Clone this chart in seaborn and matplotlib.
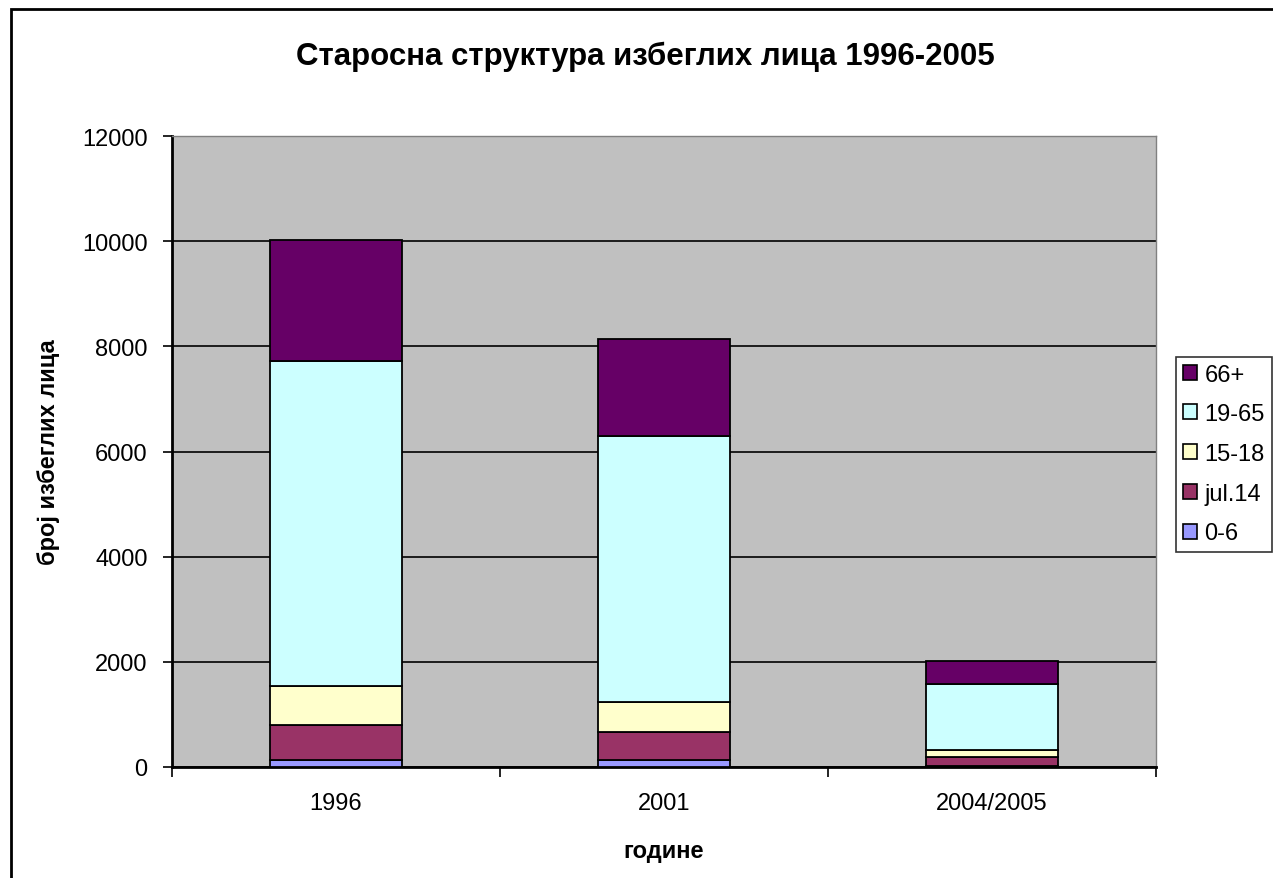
#!/usr/bin/env python3
"""
Age structure of refugees, 1996-2005 (stacked bar chart)
"""

import pandas as pd
import matplotlib.pyplot as plt
import matplotlib.patches as mpatches
import seaborn as sns
import numpy as np

years = ['1996', '2001', '2004/2005']
groups = ['0-6', 'jul.14', '15-18', '19-65', '66+']
vals_0_6 = [135, 139, 10]
vals_7_14 = [664, 527, 174]
vals_15_18 = [741, 570, 139]
vals_19_65 = [6180, 5054, 1250]
vals_66 = [2300, 1850, 449]

colors = {'0-6': '#9999FF', 'jul.14': '#993366', '15-18': '#FFFFCC',
          '19-65': '#CCFFFF', '66+': '#660066'}


def plot_age_structure():
    df = pd.DataFrame({'godina': years, '0-6': vals_0_6, 'jul.14': vals_7_14,
                       '15-18': vals_15_18, '19-65': vals_19_65, '66+': vals_66})

    sns.set_style('white')
    plt.rcParams['font.family'] = ['Liberation Sans', 'DejaVu Sans']
    plt.rcParams['text.color'] = 'black'
    plt.rcParams['xtick.color'] = 'black'
    plt.rcParams['ytick.color'] = 'black'
    plt.rcParams['axes.labelcolor'] = 'black'

    fig = plt.figure(figsize=(12.73, 8.79), dpi=100)
    ax = fig.add_axes([172 / 1273, 111 / 879, 984 / 1273, 631 / 879])
    ax.set_facecolor('#C0C0C0')

    # Outer chart frame
    fig.patches.append(mpatches.Rectangle(
        (11 / 1273, -0.1), 1.2, 0.1 + 869 / 879, transform=fig.transFigure,
        fill=False, edgecolor='black', linewidth=2, zorder=0))

    bottom = np.zeros(len(years))
    handles = []
    for g in groups:
        sns.barplot(data=df, x='godina', y=g, bottom=bottom, color=colors[g],
                    width=0.4, edgecolor='black', linewidth=1.3, ax=ax,
                    saturation=1, zorder=3)
        bottom = bottom + df[g].values
        handles.append(mpatches.Patch(facecolor=colors[g], edgecolor='black',
                                      linewidth=1.2, label=g))

    # Axes
    ax.set_xlim(-0.5, 2.5)
    ax.set_ylim(0, 12000)
    ax.set_yticks(np.arange(0, 12001, 2000))
    ax.yaxis.grid(True, color='black', linewidth=1.2, zorder=1)
    ax.set_axisbelow(True)

    ax.set_xticks([-0.5, 0.5, 1.5, 2.5])
    ax.set_xticklabels([])
    ax.set_xticks([0, 1, 2], minor=True)
    ax.set_xticklabels(years, minor=True)
    ax.tick_params(axis='x', which='major', direction='out', length=7, width=1.2,
                   bottom=True, color='black')
    ax.tick_params(axis='x', which='minor', length=0, pad=18, labelsize=17)
    ax.tick_params(axis='y', direction='out', length=6.5, width=1.2, left=True,
                   labelsize=17, pad=11)

    for side in ['top', 'right']:
        ax.spines[side].set_color('#808080')
        ax.spines[side].set_linewidth(1)
    for side in ['left', 'bottom']:
        ax.spines[side].set_color('black')
        ax.spines[side].set_linewidth(2)

    # Labels
    ax.set_xlabel('године', fontsize=17, fontweight='bold', labelpad=18)
    ax.set_ylabel('број избеглих лица', fontsize=17, fontweight='bold', labelpad=16)
    fig.text(645 / 1273, 1 - 57 / 879, 'Старосна структура избеглих лица 1996-2005',
             ha='center', va='center', fontsize=22.5, fontweight='bold')

    leg = fig.legend(handles=handles[::-1], loc='center left',
                     bbox_to_anchor=(1176 / 1273, 1 - 455 / 879), frameon=True,
                     fontsize=17, handlelength=0.6, handleheight=0.6,
                     handletextpad=0.3, labelspacing=0.75, borderpad=0.3,
                     borderaxespad=0, fancybox=False)
    leg.get_frame().set_edgecolor('black')
    leg.get_frame().set_linewidth(1.2)

    plt.savefig('out.png', dpi=100)
    return fig


if __name__ == "__main__":
    plot_age_structure()
